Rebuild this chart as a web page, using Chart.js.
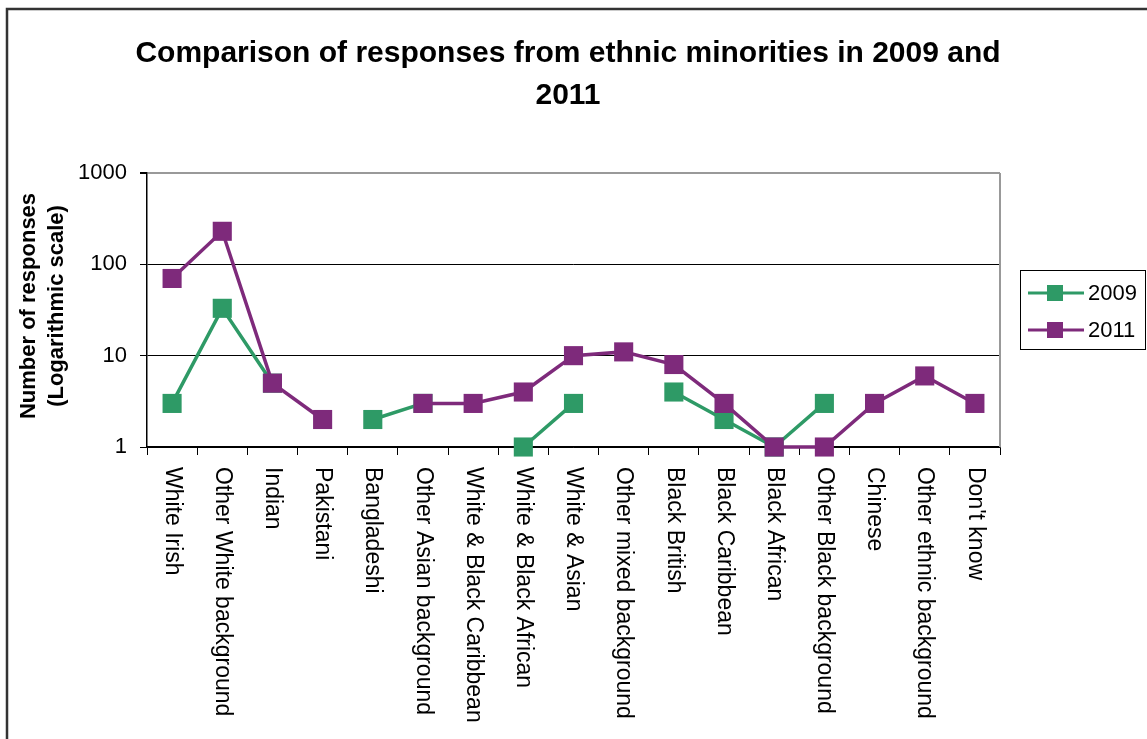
<!DOCTYPE html>
<html><head><meta charset="utf-8">
<script src="https://cdn.jsdelivr.net/npm/chart.js@4"></script>
<style>html,body{margin:0;padding:0;background:#fff;overflow:hidden}</style>
</head><body>
<canvas id="c" width="1147" height="739"></canvas>
<script>
const categories = ['White Irish','Other White background','Indian','Pakistani','Bangladeshi','Other Asian background','White & Black Caribbean','White & Black African','White & Asian','Other mixed background','Black British','Black Caribbean','Black African','Other Black background','Chinese','Other ethnic background',"Don't know"];
const values2009 = [3, 33, 5, null, 2, 3, null, 1, 3, null, 4, 2, 1, 3, null, null, null];
const values2011 = [70, 230, 5, 2, null, 3, 3, 4, 10, 11, 8, 3, 1, 1, 3, 6, 3];
const yTicks = [1, 10, 100, 1000];
const seriesNames = ['2009', '2011'];
const seriesColors = ['#2E9A66', '#7E2A7B'];
const titleLines = ['Comparison of responses from ethnic minorities in 2009 and', '2011'];
const yTitleLines = ['Number of responses', '(Logarithmic scale)'];

const FONT = '"Liberation Sans", Arial, Helvetica, sans-serif';

const custom = {
  id: 'custom',
  beforeDraw(chart) {
    const ctx = chart.ctx;
    ctx.save(); ctx.fillStyle = '#fff'; ctx.fillRect(0, 0, chart.width, chart.height); ctx.restore();
  },
  afterDraw(chart) {
    const ctx = chart.ctx, a = chart.chartArea, xs = chart.scales.x;
    ctx.save();
    // category labels, rotated clockwise
    ctx.fillStyle = '#000';
    ctx.font = '23px ' + FONT;
    categories.forEach((c, i) => {
      const x = xs.getPixelForValue(i);
      ctx.save();
      ctx.translate(x, a.bottom + 20);
      ctx.rotate(Math.PI / 2);
      ctx.textAlign = 'left'; ctx.textBaseline = 'middle';
      ctx.fillText(c, 0, 0);
      ctx.restore();
    });
    // title
    ctx.font = 'bold 30px ' + FONT;
    ctx.textAlign = 'center'; ctx.textBaseline = 'alphabetic';
    ctx.fillText(titleLines[0], 568, 62);
    ctx.fillText(titleLines[1], 568, 104);
    // y title
    ctx.font = 'bold 22px ' + FONT;
    ctx.save();
    ctx.translate(0, 306);
    ctx.rotate(-Math.PI / 2);
    ctx.textAlign = 'center'; ctx.textBaseline = 'middle';
    ctx.fillText(yTitleLines[0], 0, 29);
    ctx.fillText(yTitleLines[1], 0, 57);
    ctx.restore();
    // legend
    ctx.strokeStyle = '#000'; ctx.lineWidth = 1;
    ctx.strokeRect(1020.5, 270.5, 125, 79);
    ctx.font = '22px ' + FONT;
    ctx.textAlign = 'left'; ctx.textBaseline = 'middle';
    const rows = [293, 330];
    seriesNames.forEach((n, i) => {
      const y = rows[i];
      ctx.strokeStyle = seriesColors[i]; ctx.lineWidth = 3;
      ctx.beginPath(); ctx.moveTo(1028, y); ctx.lineTo(1084, y); ctx.stroke();
      ctx.fillStyle = seriesColors[i];
      ctx.fillRect(1047, y - 8, 16, 16);
      ctx.fillStyle = '#000';
      ctx.fillText(n, 1088, y + 1);
    });
    // outer border
    ctx.strokeStyle = '#333'; ctx.lineWidth = 2.5;
    ctx.beginPath(); ctx.moveTo(7, 745); ctx.lineTo(7, 9); ctx.lineTo(1150, 9); ctx.stroke();
    ctx.restore();
  },
  beforeDatasetsDraw(chart) {
    const ctx = chart.ctx, a = chart.chartArea;
    ctx.save();
    ctx.strokeStyle = '#999'; ctx.lineWidth = 2;
    ctx.beginPath(); ctx.moveTo(a.right, a.top); ctx.lineTo(a.right, a.bottom); ctx.stroke();
    ctx.restore();
  }
};

new Chart(document.getElementById('c'), {
  type: 'line',
  data: {
    labels: categories,
    datasets: [
      { label: seriesNames[0], data: values2009, borderColor: seriesColors[0], backgroundColor: seriesColors[0], order: 1 },
      { label: seriesNames[1], data: values2011, borderColor: seriesColors[1], backgroundColor: seriesColors[1], order: 0 }
    ].map(d => Object.assign(d, { borderWidth: 3.5, pointStyle: 'rect', pointRadius: 13.5, pointBorderWidth: 0, pointHoverRadius: 13.5, spanGaps: false, tension: 0, clip: false }))
  },
  options: {
    responsive: false,
    animation: false,
    events: [],
    layout: { padding: { top: 173, right: 147, bottom: 0, left: 0 } },
    plugins: { legend: { display: false }, title: { display: false }, tooltip: { enabled: false } },
    scales: {
      x: {
        type: 'category',
        offset: true,
        grid: { offset: true, drawOnChartArea: false, tickLength: 8, color: '#000', tickColor: '#000' },
        border: { color: '#000', width: 1.5 },
        ticks: { display: false },
        afterFit: s => { s.height = 292; }
      },
      y: {
        type: 'logarithmic',
        min: 1, max: 1000,
        afterBuildTicks: s => { s.ticks = yTicks.map(v => ({ value: v })); },
        grid: {
          color: c => (c.tick && c.tick.value === 1000) ? '#999' : '#000',
          lineWidth: c => (c.tick && c.tick.value === 1000) ? 2 : 1,
          tickColor: '#000', tickLength: 7
        },
        border: { color: '#000', width: 1.5 },
        ticks: { autoSkip: false, color: '#000', padding: 13, font: { size: 22, family: FONT }, callback: v => String(v) },
        afterFit: s => { s.width = 147; }
      }
    }
  },
  plugins: [custom]
});
</script>
</body></html>
